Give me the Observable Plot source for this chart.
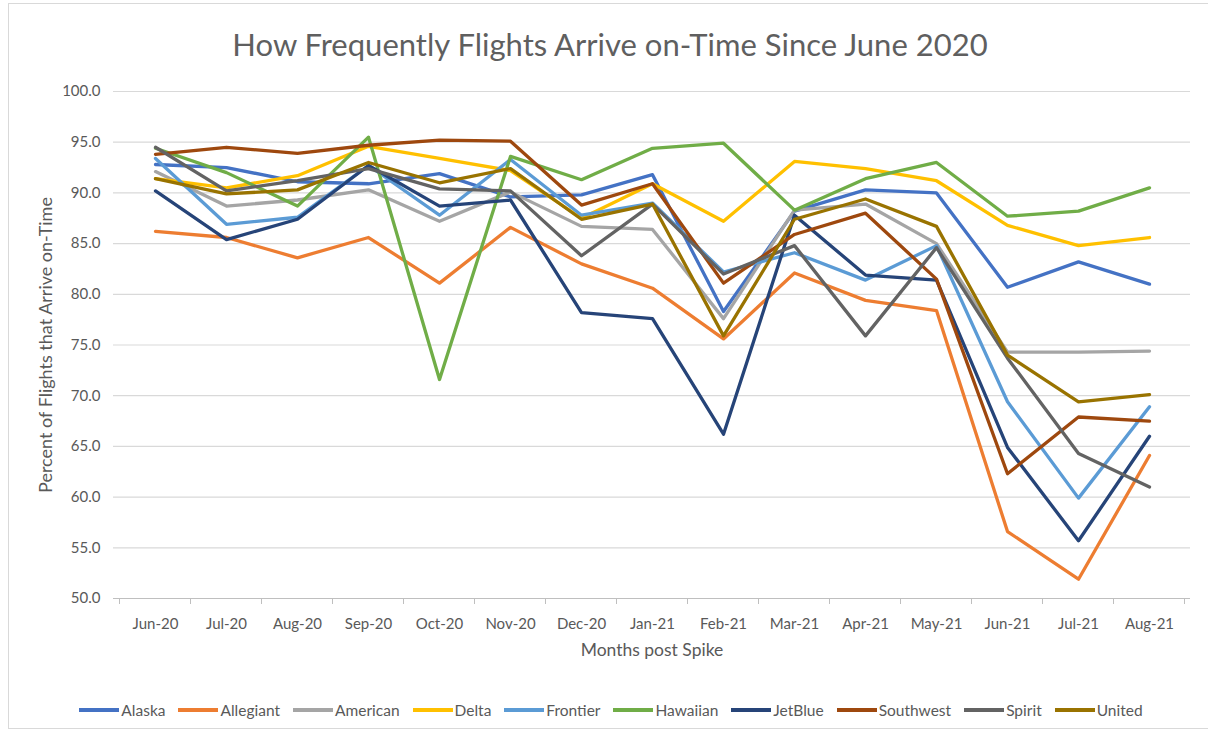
<!DOCTYPE html>
<html>
<head>
<meta charset="utf-8">
<script src="https://cdn.jsdelivr.net/npm/d3@7"></script>
<script src="https://cdn.jsdelivr.net/npm/@observablehq/plot@0.6"></script>
<style>
  body { margin: 0; background: #fff; font-family: Lato, "Open Sans", sans-serif; }
  #wrap { position: relative; width: 1208px; height: 735px; overflow: hidden; background: #fff; }
  #frame { position: absolute; left: 8px; top: 3px; width: 1210px; height: 726px; border: 1px solid #d9d9d9; box-sizing: border-box; }
  #chart { position: absolute; left: 0; top: 0; }
  #title { position: absolute; left: 0; top: 24px; width: 1220px; text-align: center; font-size: 31px; color: #5f5f5f; line-height: 40px; }
  #ytitle { position: absolute; left: 45px; top: 345px; transform: translate(-50%, -50%) rotate(-90deg); white-space: nowrap; font-size: 18px; color: #595959; line-height: 20px; }
  #legend { position: absolute; left: 0; top: 699px; width: 1222px; display: flex; justify-content: center; gap: 13px; font-size: 15.5px; color: #595959; line-height: 22px; }
  .item { display: flex; align-items: center; gap: 2px; }
  .sw { width: 40px; height: 4px; }
</style>
</head>
<body>
<div id="wrap">
  <div id="frame"></div>
  <div id="chart"></div>
  <div id="title">How Frequently Flights Arrive on-Time Since June 2020</div>
  <div id="ytitle">Percent of Flights that Arrive on-Time</div>
  <div id="legend"></div>
</div>
<script>
const months = ["Jun-20","Jul-20","Aug-20","Sep-20","Oct-20","Nov-20","Dec-20","Jan-21","Feb-21","Mar-21","Apr-21","May-21","Jun-21","Jul-21","Aug-21"];
const airlines = ["Alaska","Allegiant","American","Delta","Frontier","Hawaiian","JetBlue","Southwest","Spirit","United"];
const colors = ["#4472C4","#ED7D31","#A5A5A5","#FFC000","#5B9BD5","#70AD47","#264478","#9E480E","#636363","#997300"];
const yTicks = [50,55,60,65,70,75,80,85,90,95,100];

const alaska    = [92.8, 92.5, 91.1, 90.9, 91.9, 89.6, 89.8, 91.8, 78.3, 88.2, 90.3, 90.0, 80.7, 83.2, 81.0];
const allegiant = [86.2, 85.6, 83.6, 85.6, 81.1, 86.6, 83.0, 80.6, 75.6, 82.1, 79.4, 78.4, 56.6, 51.9, 64.1];
const american  = [92.1, 88.7, 89.3, 90.3, 87.2, 90.1, 86.7, 86.4, 77.6, 88.3, 88.9, 85.0, 74.3, 74.3, 74.4];
const delta     = [91.4, 90.5, 91.7, 94.6, 93.4, 92.2, 87.5, 90.9, 87.2, 93.1, 92.4, 91.2, 86.8, 84.8, 85.6];
const frontier  = [93.4, 86.9, 87.6, 92.7, 87.8, 93.3, 87.8, 89.0, 82.2, 84.1, 81.4, 84.8, 69.4, 59.9, 68.9];
const hawaiian  = [94.4, 92.0, 88.7, 95.5, 71.6, 93.6, 91.3, 94.4, 94.9, 88.3, 91.4, 93.0, 87.7, 88.2, 90.5];
const jetblue   = [90.2, 85.4, 87.4, 92.7, 88.7, 89.3, 78.2, 77.6, 66.2, 87.8, 81.9, 81.4, 64.9, 55.7, 66.0];
const southwest = [93.8, 94.5, 93.9, 94.7, 95.2, 95.1, 88.8, 90.9, 81.1, 85.9, 88.0, 81.5, 62.3, 67.9, 67.5];
const spirit    = [94.5, 90.2, 91.2, 92.4, 90.4, 90.2, 83.8, 88.9, 82.0, 84.8, 75.9, 84.6, 73.7, 64.3, 61.0];
const united    = [91.4, 89.9, 90.3, 93.0, 91.0, 92.4, 87.4, 88.9, 75.9, 87.4, 89.4, 86.7, 74.0, 69.4, 70.1];

const series = [alaska, allegiant, american, delta, frontier, hawaiian, jetblue, southwest, spirit, united];
const data = [];
airlines.forEach((a, i) => months.forEach((m, j) => data.push({airline: a, month: m, value: series[i][j]})));

// category boundary tick marks drawn through the x scale
function boundaryTicks(index, scales) {
  const xs = months.map(m => scales.x(m));
  const step = xs[1] - xs[0];
  const y0 = scales.y(50);
  const g = d3.create("svg:g").attr("stroke", "#bfbfbf").attr("stroke-width", 1);
  const bounds = xs.map(v => v - step / 2).concat([xs[xs.length - 1] + step / 2]);
  for (const b of bounds) {
    g.append("line").attr("x1", b).attr("x2", b).attr("y1", y0).attr("y2", y0 + 6);
  }
  return g.node();
}

const chart = Plot.plot({
  width: 1208,
  height: 680,
  marginTop: 91,
  marginBottom: 82,
  marginLeft: 113,
  marginRight: 18,
  style: {fontFamily: "Lato, 'Open Sans', sans-serif", fontSize: "15px", color: "#595959", background: "transparent"},
  x: {type: "point", domain: months, padding: 0.5, label: null},
  y: {domain: [50, 100], label: null},
  color: {domain: airlines, range: colors},
  marks: [
    Plot.gridY(yTicks, {stroke: "#d9d9d9", strokeOpacity: 1, strokeWidth: 1.2}),
    Plot.ruleY([50], {stroke: "#bfbfbf", strokeWidth: 1.2}),
    boundaryTicks,
    Plot.axisY(yTicks, {tickSize: 0, tickPadding: 13, tickFormat: d3.format(".1f"), label: null, fontSize: 15}),
    Plot.axisX({tickSize: 0, tickPadding: 20, label: null, fontSize: 15}),
    Plot.text(["Months post Spike"], {frameAnchor: "bottom", dy: 57, fontSize: 17.5, fill: "#595959"}),
    Plot.line(data, {x: "month", y: "value", z: "airline", stroke: "airline", strokeWidth: 3.3, strokeLinejoin: "round", strokeLinecap: "round"})
  ]
});
document.getElementById("chart").appendChild(chart);

const legend = document.getElementById("legend");
airlines.forEach((a, i) => {
  const it = document.createElement("div");
  it.className = "item";
  const sw = document.createElement("span");
  sw.className = "sw";
  sw.style.background = colors[i];
  const t = document.createElement("span");
  t.textContent = a;
  it.appendChild(sw); it.appendChild(t);
  legend.appendChild(it);
});
</script>
</body>
</html>
